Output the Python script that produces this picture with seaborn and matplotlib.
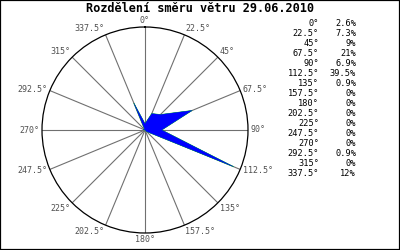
import numpy as np
import pandas as pd
import matplotlib
matplotlib.use("Agg")
import matplotlib.pyplot as plt
import seaborn as sns
from matplotlib.patches import Rectangle

# ---- data ----
directions = [0, 22.5, 45, 67.5, 90, 112.5, 135, 157.5,
              180, 202.5, 225, 247.5, 270, 292.5, 315, 337.5]
percent = [2.6, 7.3, 9, 21, 6.9, 39.5, 0.9, 0,
           0, 0, 0, 0, 0, 0.9, 0, 12]
dir_labels = ["%g°" % d for d in directions]
pct_labels = ["%g%%" % p for p in percent]
title = "Rozdělení směru větru 29.06.2010"
r_max = 42.4

sns.set_style("white")
plt.rcParams["font.family"] = ["DejaVu Sans Mono"]

fig = plt.figure(figsize=(4, 2.5), dpi=100)
fig.patch.set_facecolor("white")

W, H = 400, 250
cx, cy, R = 145, 130, 103
ax = fig.add_axes([(cx - R) / W, (H - cy - R) / H, 2 * R / W, 2 * R / H],
                  projection="polar")
ax.set_theta_zero_location("N")
ax.set_theta_direction(-1)

theta = np.deg2rad(directions)
df = pd.DataFrame({"theta": list(theta) + [theta[0]],
                   "r": list(percent) + [percent[0]]})
ax.fill(df["theta"], df["r"], color="#00dd00", lw=0.5, zorder=3)
ax.fill(df["theta"], df["r"], color="#0000ff", lw=0, zorder=4)
sns.lineplot(data=df, x="theta", y="r", sort=False, estimator=None,
             ax=ax, color="#0000ff", lw=0.2, zorder=5)
ax.set_xlabel("")
ax.set_ylabel("")

ax.set_ylim(0, r_max)
ax.set_yticks([])
ax.set_xticks(theta)
ax.set_xticklabels([])
ax.xaxis.grid(True, color="#707070", lw=0.8)
ax.spines["polar"].set_color("black")
ax.spines["polar"].set_linewidth(0.9)
ax.set_facecolor("white")

for th, lab in zip(theta, dir_labels):
    s, c = np.sin(th), np.cos(th)
    ha = "center" if abs(s) < 0.2 else ("left" if s > 0 else "right")
    va = "center" if abs(c) < 0.5 else ("bottom" if c > 0 else "top")
    ax.annotate(lab, xy=(th, r_max), xytext=(2.0 * s, 1.5 * c),
                textcoords="offset points", ha=ha, va=va,
                fontsize=6, color="#505050", annotation_clip=False)

fig.text(200 / W, 1 - 9 / H, title, ha="center", va="center",
         fontsize=8.6, fontweight="bold", color="black")

for i, (dl, pl) in enumerate(zip(dir_labels, pct_labels)):
    y = 1 - (24 + i * 9.95) / H
    fig.text(319 / W, y, dl, ha="right", va="center", fontsize=6.2, color="black")
    fig.text(356 / W, y, pl, ha="right", va="center", fontsize=6.2, color="black")

fig.patches.append(Rectangle((0, 0), 1, 1, transform=fig.transFigure,
                             fill=False, edgecolor="black", lw=1.6))

fig.savefig("out.png", dpi=100)
